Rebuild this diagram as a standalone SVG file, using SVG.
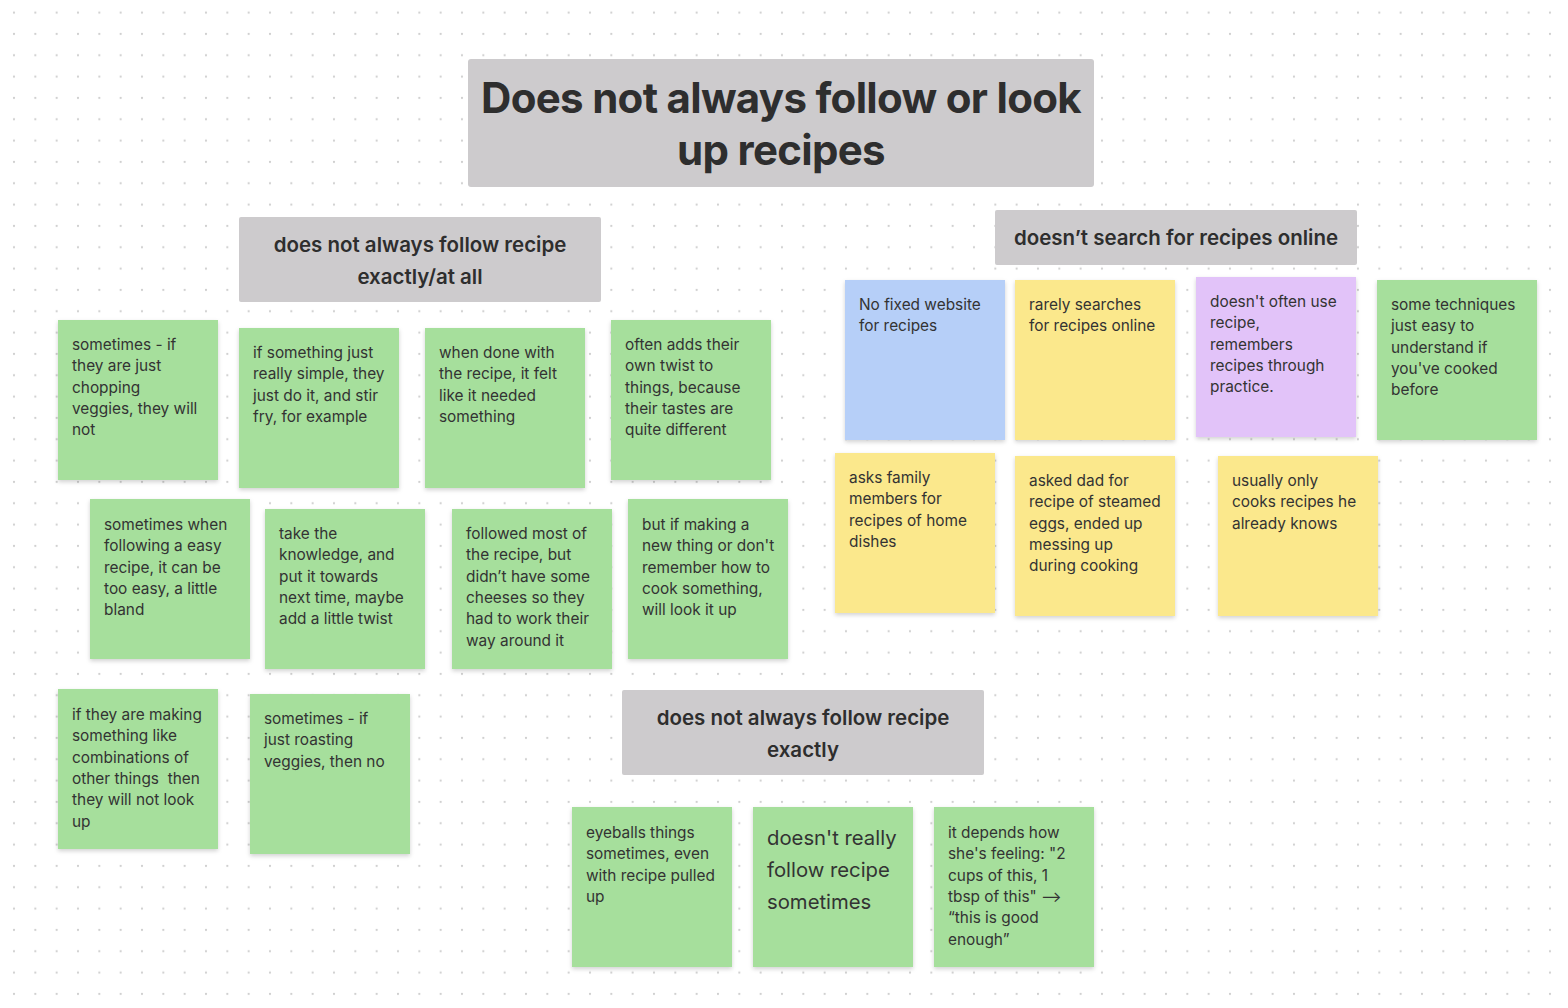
<svg xmlns="http://www.w3.org/2000/svg" width="1568" height="1008" viewBox="0 0 1568 1008">
<defs>
<pattern id="dots" x="3.33" y="1.97" width="21.333" height="21.333" patternUnits="userSpaceOnUse">
<circle cx="10.67" cy="10.67" r="1.1" fill="#cfcfcf"/>
</pattern>
<filter id="sh" x="-10%" y="-10%" width="120%" height="125%">
<feDropShadow dx="0" dy="2" stdDeviation="2" flood-color="#000" flood-opacity="0.18"/>
</filter>
<style>
.t{font-family:Inter,"Noto Sans","Liberation Sans",sans-serif;fill:#333333;}
.s{font-size:15.4px;}
.b{font-size:20.3px;}
.h{font-size:20.5px;font-weight:600;text-anchor:middle;fill:#2e2e2e;}
.ti{font-size:42px;font-weight:700;text-anchor:middle;fill:#2e2e2e;letter-spacing:-0.7px;}
.g{fill:#a6df9c;filter:url(#sh);}
.y{fill:#fbe88c;filter:url(#sh);}
.bl{fill:#b6cff8;filter:url(#sh);}
.p{fill:#e2c3f9;filter:url(#sh);}
.hd{fill:#cdcbcd;}
</style>
</defs>
<rect width="1568" height="1008" fill="#ffffff"/>
<rect width="1568" height="1008" fill="url(#dots)"/>
<g id="connectors"/>

<g id="title">
<rect class="hd" x="468" y="59" width="626" height="128" rx="3"/>
<text class="t ti" x="781" y="113">Does not always follow or look</text>
<text class="t ti" x="781" y="165">up recipes</text>
</g>

<g id="header-left">
<rect class="hd" x="239" y="217" width="362" height="85" rx="2"/>
<text class="t h" x="420" y="252">does not always follow recipe</text>
<text class="t h" x="420" y="284">exactly/at all</text>
</g>

<g id="header-right">
<rect class="hd" x="995" y="210" width="362" height="55" rx="2"/>
<text class="t h" x="1176" y="245">doesn’t search for recipes online</text>
</g>

<g id="header-bottom">
<rect class="hd" x="622" y="690" width="362" height="85" rx="2"/>
<text class="t h" x="803" y="725">does not always follow recipe</text>
<text class="t h" x="803" y="757">exactly</text>
</g>

<g id="n1">
<rect class="g" x="58" y="320" width="160" height="160"/>
<text class="t s" x="72" y="350"><tspan x="72">sometimes - if</tspan><tspan x="72" dy="21.3">they are just</tspan><tspan x="72" dy="21.3">chopping</tspan><tspan x="72" dy="21.3">veggies, they will</tspan><tspan x="72" dy="21.3">not</tspan></text>
</g>
<g id="n2">
<rect class="g" x="239" y="328" width="160" height="160"/>
<text class="t s" x="253" y="358"><tspan x="253">if something just</tspan><tspan x="253" dy="21.3">really simple, they</tspan><tspan x="253" dy="21.3">just do it, and stir</tspan><tspan x="253" dy="21.3">fry, for example</tspan></text>
</g>
<g id="n3">
<rect class="g" x="425" y="328" width="160" height="160"/>
<text class="t s" x="439" y="358"><tspan x="439">when done with</tspan><tspan x="439" dy="21.3">the recipe, it felt</tspan><tspan x="439" dy="21.3">like it needed</tspan><tspan x="439" dy="21.3">something</tspan></text>
</g>
<g id="n4">
<rect class="g" x="611" y="320" width="160" height="160"/>
<text class="t s" x="625" y="350"><tspan x="625">often adds their</tspan><tspan x="625" dy="21.3">own twist to</tspan><tspan x="625" dy="21.3">things, because</tspan><tspan x="625" dy="21.3">their tastes are</tspan><tspan x="625" dy="21.3">quite different</tspan></text>
</g>
<g id="n5">
<rect class="g" x="90" y="499" width="160" height="160"/>
<text class="t s" x="104" y="530"><tspan x="104">sometimes when</tspan><tspan x="104" dy="21.3">following a easy</tspan><tspan x="104" dy="21.3">recipe, it can be</tspan><tspan x="104" dy="21.3">too easy, a little</tspan><tspan x="104" dy="21.3">bland</tspan></text>
</g>
<g id="n6">
<rect class="g" x="265" y="509" width="160" height="160"/>
<text class="t s" x="279" y="539"><tspan x="279">take the</tspan><tspan x="279" dy="21.3">knowledge, and</tspan><tspan x="279" dy="21.3">put it towards</tspan><tspan x="279" dy="21.3">next time, maybe</tspan><tspan x="279" dy="21.3">add a little twist</tspan></text>
</g>
<g id="n7">
<rect class="g" x="452" y="509" width="160" height="160"/>
<text class="t s" x="466" y="539"><tspan x="466">followed most of</tspan><tspan x="466" dy="21.3">the recipe, but</tspan><tspan x="466" dy="21.3">didn’t have some</tspan><tspan x="466" dy="21.3">cheeses so they</tspan><tspan x="466" dy="21.3">had to work their</tspan><tspan x="466" dy="21.3">way around it</tspan></text>
</g>
<g id="n8">
<rect class="g" x="628" y="499" width="160" height="160"/>
<text class="t s" x="642" y="530"><tspan x="642">but if making a</tspan><tspan x="642" dy="21.3">new thing or don't</tspan><tspan x="642" dy="21.3">remember how to</tspan><tspan x="642" dy="21.3">cook something,</tspan><tspan x="642" dy="21.3">will look it up</tspan></text>
</g>
<g id="n9">
<rect class="g" x="58" y="689" width="160" height="160"/>
<text class="t s" x="72" y="720"><tspan x="72">if they are making</tspan><tspan x="72" dy="21.3">something like</tspan><tspan x="72" dy="21.3">combinations of</tspan><tspan x="72" dy="21.3">other things&#160; then</tspan><tspan x="72" dy="21.3">they will not look</tspan><tspan x="72" dy="21.3">up</tspan></text>
</g>
<g id="n10">
<rect class="g" x="250" y="694" width="160" height="160"/>
<text class="t s" x="264" y="724"><tspan x="264">sometimes - if</tspan><tspan x="264" dy="21.3">just roasting</tspan><tspan x="264" dy="21.3">veggies, then no</tspan></text>
</g>

<g id="r1">
<rect class="bl" x="845" y="280" width="160" height="160"/>
<text class="t s" x="859" y="310"><tspan x="859">No fixed website</tspan><tspan x="859" dy="21.3">for recipes</tspan></text>
</g>
<g id="r2">
<rect class="y" x="1015" y="280" width="160" height="160"/>
<text class="t s" x="1029" y="310"><tspan x="1029">rarely searches</tspan><tspan x="1029" dy="21.3">for recipes online</tspan></text>
</g>
<g id="r3">
<rect class="p" x="1196" y="277" width="160" height="160"/>
<text class="t s" x="1210" y="307"><tspan x="1210">doesn't often use</tspan><tspan x="1210" dy="21.3">recipe,</tspan><tspan x="1210" dy="21.3">remembers</tspan><tspan x="1210" dy="21.3">recipes through</tspan><tspan x="1210" dy="21.3">practice.</tspan></text>
</g>
<g id="r4">
<rect class="g" x="1377" y="280" width="160" height="160"/>
<text class="t s" x="1391" y="310"><tspan x="1391">some techniques</tspan><tspan x="1391" dy="21.3">just easy to</tspan><tspan x="1391" dy="21.3">understand if</tspan><tspan x="1391" dy="21.3">you've cooked</tspan><tspan x="1391" dy="21.3">before</tspan></text>
</g>
<g id="r5">
<rect class="y" x="835" y="453" width="160" height="160"/>
<text class="t s" x="849" y="483"><tspan x="849">asks family</tspan><tspan x="849" dy="21.3">members for</tspan><tspan x="849" dy="21.3">recipes of home</tspan><tspan x="849" dy="21.3">dishes</tspan></text>
</g>
<g id="r6">
<rect class="y" x="1015" y="456" width="160" height="160"/>
<text class="t s" x="1029" y="486"><tspan x="1029">asked dad for</tspan><tspan x="1029" dy="21.3">recipe of steamed</tspan><tspan x="1029" dy="21.3">eggs, ended up</tspan><tspan x="1029" dy="21.3">messing up</tspan><tspan x="1029" dy="21.3">during cooking</tspan></text>
</g>
<g id="r7">
<rect class="y" x="1218" y="456" width="160" height="160"/>
<text class="t s" x="1232" y="486"><tspan x="1232">usually only</tspan><tspan x="1232" dy="21.3">cooks recipes he</tspan><tspan x="1232" dy="21.3">already knows</tspan></text>
</g>

<g id="b1">
<rect class="g" x="572" y="807" width="160" height="160"/>
<text class="t s" x="586" y="838"><tspan x="586">eyeballs things</tspan><tspan x="586" dy="21.3">sometimes, even</tspan><tspan x="586" dy="21.3">with recipe pulled</tspan><tspan x="586" dy="21.3">up</tspan></text>
</g>
<g id="b2">
<rect class="g" x="753" y="807" width="160" height="160"/>
<text class="t b" x="767" y="845"><tspan x="767">doesn't really</tspan><tspan x="767" dy="32">follow recipe</tspan><tspan x="767" dy="32">sometimes</tspan></text>
</g>
<g id="b3">
<rect class="g" x="934" y="807" width="160" height="160"/>
<text class="t s" x="948" y="838"><tspan x="948">it depends how</tspan><tspan x="948" dy="21.3">she's feeling: "2</tspan><tspan x="948" dy="21.3">cups of this, 1</tspan><tspan x="948" dy="21.3">tbsp of this" ⟶</tspan><tspan x="948" dy="21.3">“this is good</tspan><tspan x="948" dy="21.3">enough”</tspan></text>
</g>
</svg>
